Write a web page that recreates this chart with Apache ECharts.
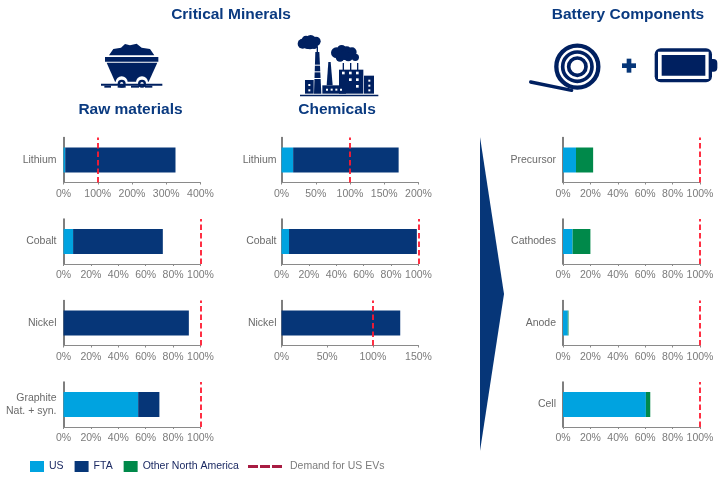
<!DOCTYPE html>
<html>
<head>
<meta charset="utf-8">
<style>html,body{margin:0;padding:0;background:#fff}#c{width:725px;height:480px}</style>
<script src="https://cdn.jsdelivr.net/npm/echarts@6/dist/echarts.min.js"></script>
</head>
<body>
<div id="c"></div>
<script>
// ---- data (percent of demand) ----
var rawCategories = ['Lithium', 'Cobalt', 'Nickel', 'Graphite\nNat. + syn.'];
var rawUS = [5, 7, 0, 54.5];
var rawFTA = [322, 65.5, 91.5, 15.5];
var rawAxisMax = [400, 100, 100, 100];
var rawAxisStep = [100, 20, 20, 20];

var chemCategories = ['Lithium', 'Cobalt', 'Nickel'];
var chemUS = [17, 5.5, 0];
var chemFTA = [154, 93.3, 130];
var chemAxisMax = [200, 100, 150];
var chemAxisStep = [50, 20, 50];

var compCategories = ['Precursor', 'Cathodes', 'Anode', 'Cell'];
var compUS = [9.5, 7, 3.5, 60.5];
var compOther = [12.5, 13, 0.5, 3.2];
var compAxisMax = [100, 100, 100, 100];
var compAxisStep = [20, 20, 20, 20];

var demandLevel = 100;
var legendNames = ['US', 'FTA', 'Other North America'];
var demandName = 'Demand for US EVs';

// ---- style ----
var BLUE = '#00a3e0', NAVY = '#063678', GREEN = '#00894a', ICON = '#002060';
var RED = '#ff1a30', DARKRED = '#a81c42', GREY = '#7b7b7b', FONT = '"Liberation Sans", Arial, sans-serif';

var grids = [], xAxes = [], yAxes = [], series = [];
var rowTops = [137.5, 219, 300.5, 382];

function addPanel(left, labelGap, cats, us, fta, other, maxes, steps) {
  cats.forEach(function (cat, i) {
    var idx = grids.length;
    grids.push({ left: left, width: 137, top: rowTops[i], height: 45 });
    xAxes.push({
      gridIndex: idx, type: 'value', min: 0, max: maxes[i], interval: steps[i],
      splitLine: { show: false },
      axisLine: { show: true, lineStyle: { color: '#8a8a8a', width: 1 } },
      axisTick: { show: true, length: 2, lineStyle: { color: '#8a8a8a' } },
      axisLabel: { color: GREY, fontSize: 10.5, fontFamily: FONT, margin: 6, formatter: '{value}%', hideOverlap: false }
    });
    yAxes.push({
      gridIndex: idx, type: 'category', data: [cat],
      axisLine: { show: true, lineStyle: { color: '#555', width: 1.5 } },
      axisTick: { show: false },
      axisLabel: { color: '#6a6a6a', fontSize: 10.5, fontFamily: FONT, margin: labelGap, lineHeight: 13 }
    });
    function bar(name, color, v) {
      series.push({ type: 'bar', name: name, stack: 's' + idx, xAxisIndex: idx, yAxisIndex: idx,
        data: [v], barWidth: 25, itemStyle: { color: color } });
    }
    bar(legendNames[0], BLUE, us[i]);
    if (fta) bar(legendNames[1], NAVY, fta[i]);
    if (other) bar(legendNames[2], GREEN, other[i]);
    series.push({
      type: 'line', name: demandName, xAxisIndex: idx, yAxisIndex: idx, data: [],
      symbol: 'none', showSymbol: false,
      itemStyle: { color: DARKRED },
      lineStyle: { color: DARKRED, type: [7, 3], width: 2.5 },
      markLine: {
        silent: true, symbol: 'none', label: { show: false }, animation: false,
        lineStyle: { color: RED, type: [5.5, 3], width: 1.8 },
        data: [{ xAxis: demandLevel }]
      }
    });
  });
}
addPanel(63.5, 7, rawCategories, rawUS, rawFTA, null, rawAxisMax, rawAxisStep);
addPanel(281.5, 5, chemCategories, chemUS, chemFTA, null, chemAxisMax, chemAxisStep);
addPanel(563, 7, compCategories, compUS, null, compOther, compAxisMax, compAxisStep);

// ---- decoration helpers ----
var gfx = [];
function title(t, x, y) {
  gfx.push({ type: 'text', x: x, y: y, style: { text: t, fill: '#0a3a80', font: 'bold 15.5px ' + FONT, textAlign: 'center', textVerticalAlign: 'middle' } });
}
function mapper(ox, oy) {
  return {
    poly: function (pts, fill) {
      gfx.push({ type: 'polygon', shape: { points: pts.map(function (p) { return [ox + p[0] / 3, oy + p[1] / 3]; }) }, style: { fill: fill || ICON } });
    },
    rect: function (x1, y1, x2, y2, fill, r) {
      gfx.push({ type: 'rect', shape: { x: ox + x1 / 3, y: oy + y1 / 3, width: (x2 - x1) / 3, height: (y2 - y1) / 3, r: r || 0 }, style: { fill: fill || ICON } });
    },
    circ: function (x, y, r, fill) {
      gfx.push({ type: 'circle', shape: { cx: ox + x / 3, cy: oy + y / 3, r: r / 3 }, style: { fill: fill || ICON } });
    },
    ring: function (x, y, r, w) {
      gfx.push({ type: 'circle', shape: { cx: ox + x / 3, cy: oy + y / 3, r: r / 3 }, style: { fill: 'none', stroke: ICON, lineWidth: w / 3 } });
    },
    line: function (x1, y1, x2, y2, w) {
      gfx.push({ type: 'line', shape: { x1: ox + x1 / 3, y1: oy + y1 / 3, x2: ox + x2 / 3, y2: oy + y2 / 3 }, style: { stroke: ICON, lineWidth: w / 3, lineCap: 'round' } });
    }
  };
}
title('Critical Minerals', 231, 14.5);
title('Battery Components', 628, 15);
title('Raw materials', 130.5, 110);
title('Chemicals', 337, 110);

// arrow
gfx.push({ type: 'polygon', shape: { points: [[480, 137], [504, 294], [480, 451]] }, style: { fill: NAVY } });

// mine cart
var m = mapper(95, 35);
m.poly([[42, 61], [55, 42], [78, 38], [90, 27], [105, 31], [125, 26], [140, 38], [165, 42], [178, 61]]);
m.rect(30, 66, 190, 80);
m.poly([[35, 83], [187, 83], [161, 140], [60, 140]]);
m.circ(80, 142, 18, '#fff');
m.circ(141, 142, 18, '#fff');
m.circ(80, 146, 12);
m.circ(141, 146, 12);
m.circ(80, 146, 5, '#fff');
m.circ(141, 146, 5, '#fff');
m.rect(18, 146, 202, 152);
[[28, 48], [68, 92], [108, 132], [150, 172]].forEach(function (t) { m.rect(t[0], 152, t[1], 158); });

// factory
var f = mapper(290, 28);
[[38, 47, 15], [48, 36, 13], [62, 38, 17], [78, 40, 14], [52, 52, 11], [72, 52, 11], [60, 50, 14]].forEach(function (c) { f.circ(c[0], c[1], c[2]); });
[[139, 74, 16], [155, 65, 14], [170, 70, 15], [186, 72, 14], [196, 88, 11], [150, 88, 13], [175, 86, 14], [163, 82, 14]].forEach(function (c) { f.circ(c[0], c[1], c[2]); });
f.rect(80, 55, 84, 72);
f.poly([[76, 72], [88, 72], [94, 197], [72, 197]]);
f.rect(70, 110, 96, 113, '#fff');
f.rect(70, 130, 96, 133, '#fff');
f.rect(70, 150, 96, 153, '#fff');
f.poly([[115, 102], [122, 102], [128, 172], [110, 172]]);
f.rect(158, 105, 162, 127); f.rect(180, 105, 184, 127); f.rect(201, 105, 205, 127);
f.rect(147, 125, 220, 197);
f.rect(45, 156, 71, 197);
f.rect(222, 143, 252, 197);
f.rect(97, 172, 168, 197);
f.rect(30, 200, 265, 205);
[[160, 135], [181, 135], [202, 135], [181, 155], [202, 155], [202, 175]].forEach(function (w) { f.rect(w[0] - 4, w[1] - 4, w[0] + 4, w[1] + 4, '#fff'); });
[[55, 168], [55, 184], [235, 155], [235, 170], [235, 184]].forEach(function (w) { f.rect(w[0], w[1], w[0] + 6, w[1] + 6, '#fff'); });
[[108, 182], [122, 182], [136, 182], [150, 182]].forEach(function (w) { f.rect(w[0], w[1], w[0] + 6, w[1] + 6, '#fff'); });

// roll, plus, battery
var b = mapper(520, 35);
b.ring(172, 95, 63, 13);
b.ring(172, 95, 44, 11);
b.ring(172, 95, 26, 11);
b.line(32, 141, 155, 166, 10);
b.rect(306, 85, 348, 99, NAVY);
b.rect(320, 71, 334, 113, NAVY);
b.rect(565, 72, 592, 110, ICON, 4);
b.rect(404, 40, 576, 142, ICON, 6);
b.rect(414, 50, 566, 132, '#fff');
b.rect(425, 60, 556, 122);

var chart = echarts.init(document.getElementById('c'));
chart.setOption({
  animation: false,
  backgroundColor: '#fff',
  textStyle: { fontFamily: FONT },
  grid: grids, xAxis: xAxes, yAxis: yAxes, series: series,
  legend: [
    { left: 30, top: 461, padding: 0, itemWidth: 14, itemHeight: 11, itemGap: 11, icon: 'rect', selectedMode: false,
      textStyle: { color: '#1c2a63', fontSize: 10.5, fontFamily: FONT },
      data: legendNames },
    { left: 248, top: 461, padding: 0, itemWidth: 34, itemHeight: 3, selectedMode: false,
      icon: 'path://M0 0H10V3H0Z M12 0H22V3H12Z M24 0H34V3H24Z',
      textStyle: { color: GREY, fontSize: 10.5, fontFamily: FONT, padding: [0, 0, 0, 3] },
      data: [demandName] }
  ],
  graphic: { elements: gfx.map(function (g) { g.silent = true; return g; }) }
});
</script>
</body>
</html>
